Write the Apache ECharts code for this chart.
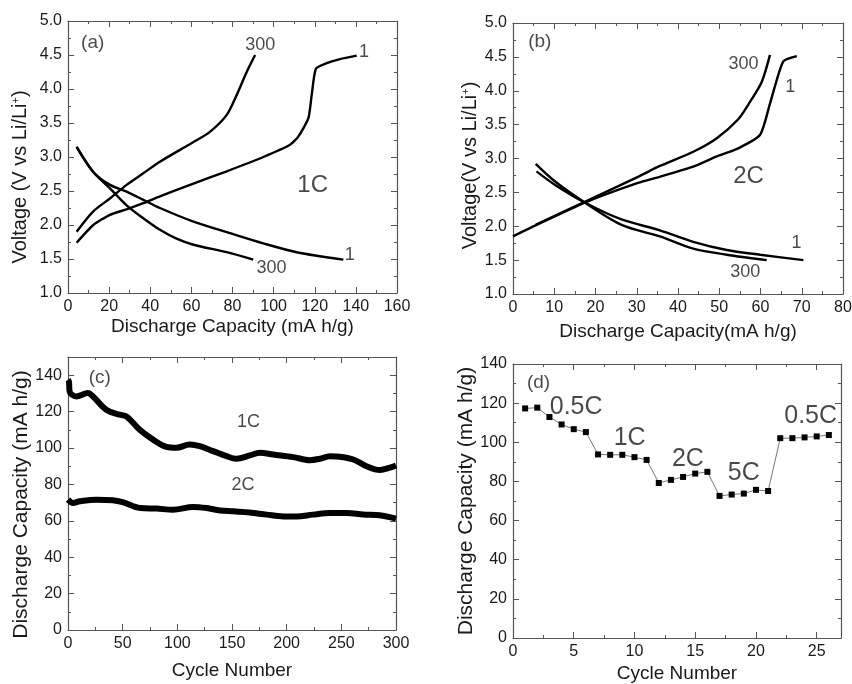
<!DOCTYPE html>
<html><head><meta charset="utf-8">
<script src="https://cdn.jsdelivr.net/npm/echarts@6/dist/echarts.min.js"></script>
<style>html,body{margin:0;padding:0;background:#fff}#c{width:852px;height:684px}</style>
</head><body><div id="c"></div>
<script>
// ---------- Panel (a): 1C charge/discharge, cycles 1 and 300 ----------
const aCharge1 = [[4.2,1.74],[12.3,2.00],[20.4,2.15],[28.5,2.23],[36.6,2.32],[44.7,2.42],[61.0,2.61],[77.2,2.79],[95.0,3.00],[108.0,3.18],[112.0,3.30],[116.9,3.57],[118.5,3.91],[120.6,4.30],[125.8,4.38],[132.3,4.44],[140.4,4.49]];
const aCharge300 = [[4.2,1.90],[12.3,2.20],[20.4,2.39],[28.5,2.59],[36.6,2.76],[44.7,2.93],[61.0,3.22],[69.0,3.37],[77.2,3.62],[82.0,3.91],[86.9,4.25],[91.0,4.50]];
const aDischarge1 = [[4.2,3.15],[12.3,2.78],[20.4,2.59],[28.5,2.49],[36.6,2.37],[44.7,2.25],[61.0,2.05],[78.8,1.88],[95.0,1.73],[111.2,1.60],[133.9,1.49]];
const aDischarge300 = [[4.2,3.15],[12.3,2.78],[20.4,2.54],[28.5,2.29],[36.6,2.10],[44.7,1.93],[52.8,1.80],[61.0,1.71],[77.2,1.60],[90.1,1.49]];
const aCurveNotes = [['(a)',12,4.68],['300',93.5,4.64],['1',144,4.55],['1',137,1.56],['300',99,1.37]];
const aRateNotes = [['1C',119,2.59]];

// ---------- Panel (b): 2C charge/discharge, cycles 1 and 300 ----------
const bCharge1 = [[0,1.85],[5.7,2.02],[17.4,2.35],[30.3,2.64],[35.6,2.73],[43.7,2.88],[49.4,3.03],[54.6,3.15],[59.9,3.35],[62.3,3.81],[65.5,4.43],[68.8,4.51]];
const bCharge300 = [[5.5,2.02],[17.4,2.36],[30.3,2.73],[35.6,2.89],[43.7,3.10],[49.4,3.30],[54.6,3.58],[57.5,3.84],[60.3,4.13],[62.3,4.53]];
const bDischarge1 = [[5.7,2.81],[10.2,2.61],[17.4,2.35],[26.3,2.10],[35.6,1.94],[43.7,1.77],[51.8,1.65],[59.9,1.58],[70.4,1.50]];
const bDischarge300 = [[5.5,2.92],[10.2,2.66],[17.4,2.35],[26.3,2.02],[35.6,1.85],[43.7,1.67],[51.8,1.58],[61.5,1.50]];
const bCurveNotes = [['(b)',6.5,4.72],['300',55.9,4.40],['1',67.2,4.05],['1',68.7,1.75],['300',56.3,1.32]];
const bRateNotes = [['2C',57.1,2.73]];

// ---------- Panel (c): cycling at 1C and 2C ----------
const c1C = [[0,137.5],[0.9,136.5],[1.5,131],[7.6,128.3],[18.3,130.2],[22.9,128.3],[35,121],[47.3,118.3],[53.4,117.4],[65.6,110],[77.8,104.6],[90,100.6],[99.2,100.1],[111.4,101.9],[120.5,101],[132.7,98.3],[145,95.5],[154,94.1],[166.3,95.9],[175.5,97.4],[187.7,96.4],[206,95],[221.2,93.3],[230.4,94.1],[239.6,95.5],[248.7,95.2],[261,93.7],[273,90],[285.3,87.9],[294.5,89.2],[300,90.4]];
const c2C = [[0,71.6],[4.6,69.8],[10.7,70.7],[26,71.6],[41,71.3],[50,70.2],[66,67],[81,66.7],[96,66.1],[114.5,67.6],[126.7,67],[139,65.7],[151,65.2],[166,64.6],[181.6,63.4],[197,62.4],[209,62.4],[224,63.4],[239.7,64.3],[255,64.3],[270,63.4],[285,63],[300,61.2]];
const cCurveNotes = [['(c)',29,138.7]];
const cRateNotes = [['1C',165,114.4],['2C',160,79.5]];

// ---------- Panel (d): rate capability ----------
const dCycles = [1,2,3,4,5,6,7,8,9,10,11,12,13,14,15,16,17,18,19,20,21,22,23,24,25,26];
const dCapacity = [117.3,117.7,112.9,109.1,106.7,105.2,93.8,93.6,93.6,92.4,91.0,79.2,80.8,82.3,84.0,84.9,72.6,73.3,73.8,75.7,75.1,102.1,102.1,102.5,103.0,103.7];
const dCurveNotes = [['(d)',2.1,130.3]];
const dRateNotes = [['0.5C',5.2,118],['1C',9.6,102],['2C',14.4,91.4],['5C',19,84.2],['0.5C',24.5,113.6]];

// ---------- tick label specs ----------
const voltTicks = {min:1.0, max:5.0, interval:0.5};
const capTicksA = {min:0, max:160, interval:20};
const capTicksB = {min:0, max:80, interval:10};
const cycTicksC = {min:0, max:300, interval:50};
const capTicksC = {min:0, max:150, interval:20};
const cycTicksD = {min:0, max:27, interval:5};
const capTicksD = {min:0, max:140, interval:20};

const FONT = "'Liberation Sans',Arial,sans-serif";
const AX = '#555';
const TXT = '#1a1a1a';

function mkAxes(gi, dim, spec, name, nameGap, fmt, hideMax, nameSize, shift) {
  const base = {
    gridIndex: gi, type: 'value', min: spec.min, max: spec.max, interval: spec.interval,
    splitLine: {show: false},
    axisLine: {show: true, onZero: false, lineStyle: {color: AX, width: 1.2}},
    axisTick: {show: true, inside: true, length: 6, lineStyle: {color: AX}},
    minorTick: {show: true, splitNumber: 2, length: 3, lineStyle: {color: AX}}
  };
  const main = Object.assign({}, base, {
    position: dim === 'x' ? 'bottom' : 'left',
    name: name, nameLocation: 'middle', nameGap: nameGap,
    nameTextStyle: {fontFamily: FONT, fontSize: nameSize, color: TXT,
      padding: shift > 0 ? [0, shift, 0, 0] : [0, 0, 0, -shift],
      rich: {sup: {fontFamily: FONT, fontSize: 11, color: TXT, verticalAlign: 'top', padding: [0, 0, 9, 0]}}},
    axisLabel: {show: true, color: TXT, fontFamily: FONT, fontSize: 16, margin: 6,
      formatter: fmt, showMaxLabel: !hideMax}
  });
  const other = Object.assign({}, base, {position: dim === 'x' ? 'top' : 'right', axisLabel: {show: false}, name: ''});
  return [main, other];
}

const fmt1 = v => v.toFixed(1);
const fmt0 = v => String(Math.round(v));

const grids = [
  {left: 68, top: 21, width: 329, height: 272},
  {left: 513, top: 23, width: 330, height: 271},
  {left: 68, top: 357, width: 328, height: 273},
  {left: 513, top: 364, width: 328, height: 274}
].map(g => Object.assign({containLabel: false, outerBoundsMode: 'none'}, g));

const xAxis = [].concat(
  mkAxes(0, 'x', capTicksA, 'Discharge Capacity (mA h/g)', 24, fmt0, false, 19, 0),
  mkAxes(1, 'x', capTicksB, 'Discharge Capacity(mA h/g)', 28, fmt0, false, 19, 0),
  mkAxes(2, 'x', cycTicksC, 'Cycle Number', 31, fmt0, false, 19, 0),
  mkAxes(3, 'x', cycTicksD, 'Cycle Number', 26, fmt0, true, 19, 0)
);
const yAxis = [].concat(
  mkAxes(0, 'y', voltTicks, 'Voltage (V vs Li/Li{sup|+})', 38, fmt1, false, 20, 40),
  mkAxes(1, 'y', voltTicks, 'Voltage(V vs Li/Li{sup|+})', 31, fmt1, false, 20, 14),
  mkAxes(2, 'y', capTicksC, 'Discharge Capacity (mA h/g)', 24, fmt0, true, 21, 22),
  mkAxes(3, 'y', capTicksD, 'Discharge Capacity (mA h/g)', 24, fmt0, false, 21, 0)
);

function curve(gi, data, width, smooth) {
  return {type: 'line', xAxisIndex: gi * 2, yAxisIndex: gi * 2, data: data, showSymbol: false, symbol: 'none',
    smooth: smooth, lineStyle: {color: '#000', width: width}, silent: true, animation: false, z: 3};
}
function notes(gi, list, size) {
  return {type: 'scatter', xAxisIndex: gi * 2, yAxisIndex: gi * 2, symbolSize: 0, silent: true, animation: false, z: 5,
    data: list.map(n => ({name: n[0], value: [n[1], n[2]]})),
    label: {show: true, position: 'inside', formatter: '{b}', fontFamily: FONT, fontSize: size, color: TXT}};
}

const series = [
  curve(0, aCharge1, 2.4, 0.2), curve(0, aCharge300, 2.4, 0.3), curve(0, aDischarge1, 2.4, 0.3), curve(0, aDischarge300, 2.4, 0.3),
  notes(0, aCurveNotes.slice(0, 1), 19), notes(0, aCurveNotes.slice(1), 18), notes(0, aRateNotes, 24),
  curve(1, bCharge1, 2.4, 0.2), curve(1, bCharge300, 2.4, 0.25), curve(1, bDischarge1, 2.4, 0.3), curve(1, bDischarge300, 2.4, 0.3),
  notes(1, bCurveNotes.slice(0, 1), 19), notes(1, bCurveNotes.slice(1), 18), notes(1, bRateNotes, 24),
  curve(2, c1C, 6, 0.35), curve(2, c2C, 6, 0.35),
  notes(2, cCurveNotes, 19), notes(2, cRateNotes, 18),
  {type: 'line', xAxisIndex: 6, yAxisIndex: 6, data: dCycles.map((c, i) => [c, dCapacity[i]]),
    symbol: 'rect', symbolSize: 6, showSymbol: true, itemStyle: {color: '#000'},
    lineStyle: {color: '#777', width: 1}, animation: false, z: 3},
  notes(3, dCurveNotes, 19), notes(3, dRateNotes, 25)
];

const chart = echarts.init(document.getElementById('c'), null, {renderer: 'canvas'});
chart.setOption({backgroundColor: '#fff', animation: false, grid: grids, xAxis: xAxis, yAxis: yAxis, series: series});
</script></body></html>
